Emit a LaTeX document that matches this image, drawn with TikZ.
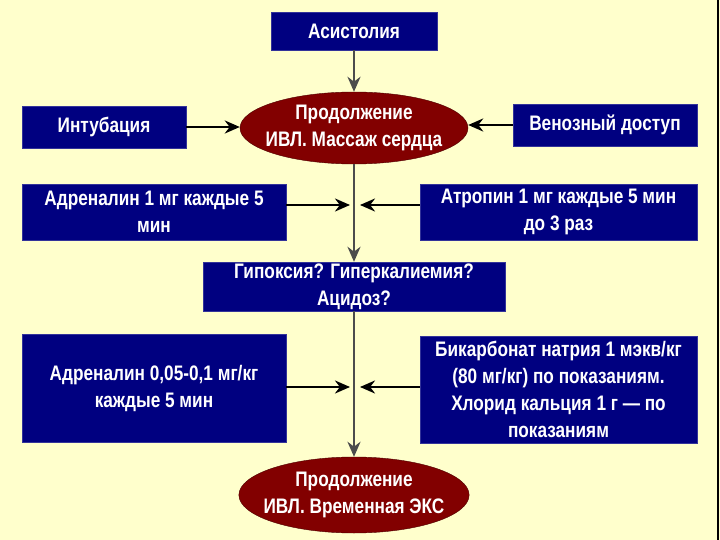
\documentclass[tikz,border=0pt]{standalone}
\usepackage{fontspec}
\setmainfont{Liberation Sans}[FakeStretch=0.82]
\usetikzlibrary{positioning, shapes.geometric, arrows.meta}
\definecolor{slidebg}{RGB}{255,255,204}
\definecolor{navybox}{RGB}{0,0,128}
\definecolor{maroonov}{RGB}{130,0,0}

\begin{document}
\begin{tikzpicture}[x=1pt, y=-1pt, font=\fontsize{21}{27}\selectfont\bfseries,
  >={Stealth[length=15pt, width=13pt]},
  b/.style={rectangle, fill=navybox, draw=navybox!80!white, text=white,
            align=center, inner sep=0pt},
  ov/.style={ellipse, fill=maroonov, draw=maroonov!60!black, text=white,
             align=center, inner xsep=-9pt, inner ysep=0pt, minimum width=228pt},
  arr/.style={->, line width=2.4pt, draw=black},
  vline/.style={arr, draw=black!70}]
\useasboundingbox (0,0) rectangle (720,540);
\fill[slidebg] (0,0) rectangle (720,540);
\draw[line width=2pt] (718,0) -- (718,540);
% top
\node[b, minimum width=166pt, minimum height=38pt] (asys) at (354,31) {Асистолия};
\node[ov, minimum height=72pt] (cont1) at (354,128) {Продолжение\\ИВЛ. Массаж сердца};
\node[b, minimum width=164pt, minimum height=42pt] (intub) at (104,127) {Интубация};
\node[b, minimum width=184pt, minimum height=42pt] (venous) at (605,125) {Венозный доступ};
% middle
\node[b, minimum width=264pt, minimum height=56pt] (adr1) at (154,212) {Адреналин 1 мг каждые 5\\мин};
\node[b, minimum width=277pt, minimum height=56pt] (atrop) at (558.5,212) {Атропин 1 мг каждые 5 мин\\до 3 раз};
\node[b, minimum width=302pt, minimum height=49pt] (hypox) at (354,286.5) {Гипоксия? Гиперкалиемия?\\Ацидоз?};
% bottom
\node[b, minimum width=264pt, minimum height=108pt] (adr2) at (154,388) {Адреналин 0,05-0,1 мг/кг\\каждые 5 мин};
\node[b, minimum width=277pt, minimum height=107pt] (bicarb) at (558.5,389.5) {Бикарбонат натрия 1 мэкв/кг\\(80 мг/кг) по показаниям.\\Хлорид кальция 1 г — по\\показаниям};
\node[ov, minimum height=76pt] (cont2) at (354,495) {Продолжение\\ИВЛ. Временная ЭКС};
\coordinate (j1l) at (350,205); \coordinate (j1r) at (360,205);
\coordinate (j2l) at (350,387); \coordinate (j2r) at (360,387);
\draw[vline] (asys) -- (cont1);
\draw[vline] (cont1) -- (hypox);
\draw[vline] (hypox) -- (cont2);
\draw[arr] (intub) -- (cont1.west |- intub);
\draw[arr] (venous) -- (cont1.east |- venous);
\draw[arr] (adr1.east |- j1l) -- (j1l);
\draw[arr] (atrop.west |- j1r) -- (j1r);
\draw[arr] (adr2.east |- j2l) -- (j2l);
\draw[arr] (bicarb.west |- j2r) -- (j2r);
\end{tikzpicture}
\end{document}
